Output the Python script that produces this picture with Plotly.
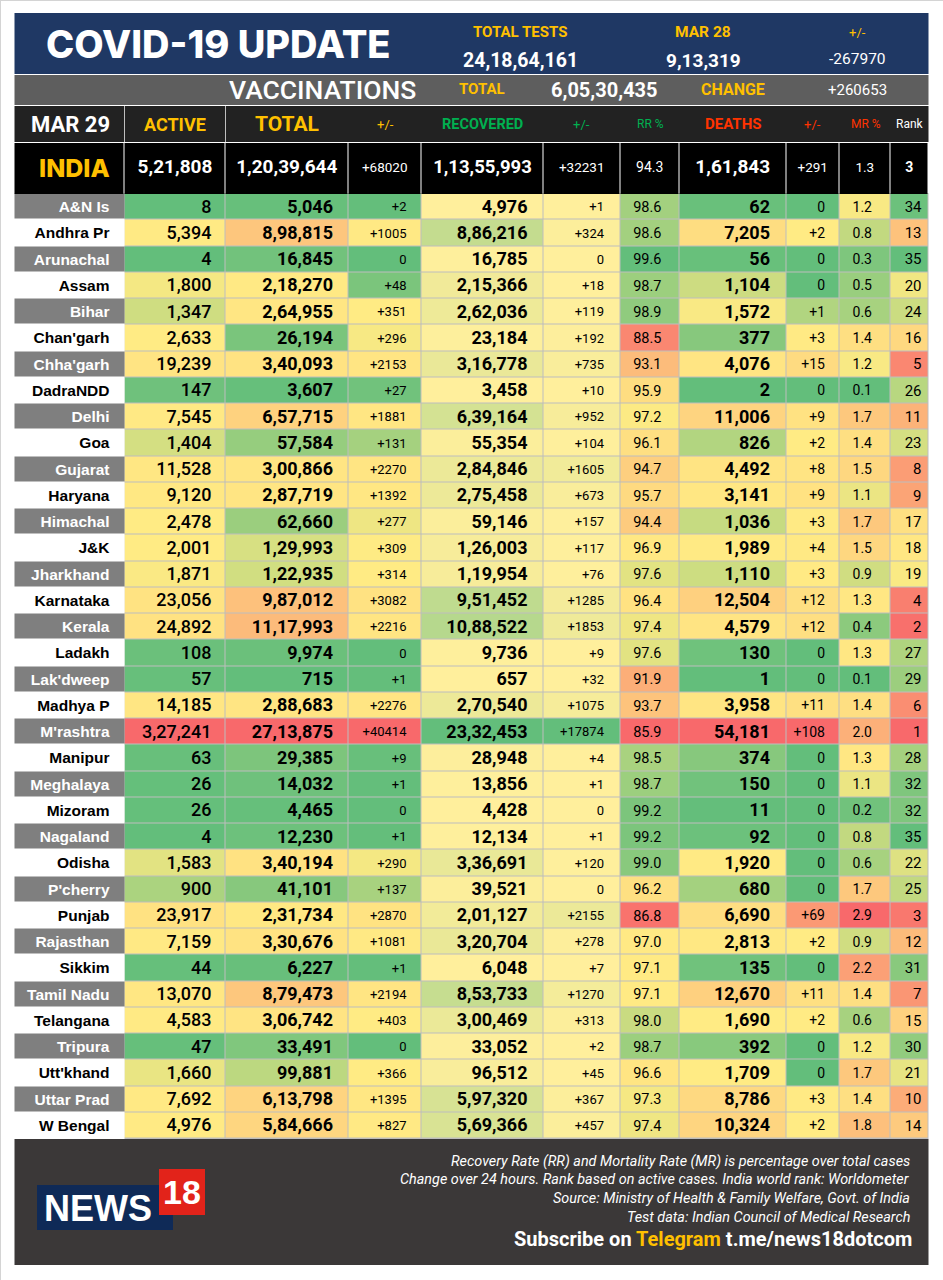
"""
ตารางสรุปสถานการณ์ COVID-19 ของอินเดียรายรัฐ (MAR 29)
สีของแต่ละคอลัมน์คำนวณจากค่าในคอลัมน์ แบบ conditional formatting ของ Excel
"""

import numpy as np
import pandas as pd
import plotly.graph_objects as go

WIDTH = 943
HEIGHT = 1280
YELLOW = '#FFC000'
GREEN = '#00B050'
RED = '#FF3300'
NUM_FONT = 'Roboto'
NAME_FONT = 'Liberation Sans'

# ข้อมูลรายรัฐ
columns = ['state', 'active', 'total', 'total_chg', 'recovered', 'rec_chg', 'rr',
           'deaths', 'death_chg', 'mr', 'rank']
rows = [
    ['A&N Is', 8, 5046, 2, 4976, 1, 98.6, 62, 0, 1.2, 34],
    ['Andhra Pr', 5394, 898815, 1005, 886216, 324, 98.6, 7205, 2, 0.8, 13],
    ['Arunachal', 4, 16845, 0, 16785, 0, 99.6, 56, 0, 0.3, 35],
    ['Assam', 1800, 218270, 48, 215366, 18, 98.7, 1104, 0, 0.5, 20],
    ['Bihar', 1347, 264955, 351, 262036, 119, 98.9, 1572, 1, 0.6, 24],
    ["Chan'garh", 2633, 26194, 296, 23184, 192, 88.5, 377, 3, 1.4, 16],
    ["Chha'garh", 19239, 340093, 2153, 316778, 735, 93.1, 4076, 15, 1.2, 5],
    ['DadraNDD', 147, 3607, 27, 3458, 10, 95.9, 2, 0, 0.1, 26],
    ['Delhi', 7545, 657715, 1881, 639164, 952, 97.2, 11006, 9, 1.7, 11],
    ['Goa', 1404, 57584, 131, 55354, 104, 96.1, 826, 2, 1.4, 23],
    ['Gujarat', 11528, 300866, 2270, 284846, 1605, 94.7, 4492, 8, 1.5, 8],
    ['Haryana', 9120, 287719, 1392, 275458, 673, 95.7, 3141, 9, 1.1, 9],
    ['Himachal', 2478, 62660, 277, 59146, 157, 94.4, 1036, 3, 1.7, 17],
    ['J&K', 2001, 129993, 309, 126003, 117, 96.9, 1989, 4, 1.5, 18],
    ['Jharkhand', 1871, 122935, 314, 119954, 76, 97.6, 1110, 3, 0.9, 19],
    ['Karnataka', 23056, 987012, 3082, 951452, 1285, 96.4, 12504, 12, 1.3, 4],
    ['Kerala', 24892, 1117993, 2216, 1088522, 1853, 97.4, 4579, 12, 0.4, 2],
    ['Ladakh', 108, 9974, 0, 9736, 9, 97.6, 130, 0, 1.3, 27],
    ["Lak'dweep", 57, 715, 1, 657, 32, 91.9, 1, 0, 0.1, 29],
    ['Madhya P', 14185, 288683, 2276, 270540, 1075, 93.7, 3958, 11, 1.4, 6],
    ["M'rashtra", 327241, 2713875, 40414, 2332453, 17874, 85.9, 54181, 108, 2.0, 1],
    ['Manipur', 63, 29385, 9, 28948, 4, 98.5, 374, 0, 1.3, 28],
    ['Meghalaya', 26, 14032, 1, 13856, 1, 98.7, 150, 0, 1.1, 32],
    ['Mizoram', 26, 4465, 0, 4428, 0, 99.2, 11, 0, 0.2, 32],
    ['Nagaland', 4, 12230, 1, 12134, 1, 99.2, 92, 0, 0.8, 35],
    ['Odisha', 1583, 340194, 290, 336691, 120, 99.0, 1920, 0, 0.6, 22],
    ["P'cherry", 900, 41101, 137, 39521, 0, 96.2, 680, 0, 1.7, 25],
    ['Punjab', 23917, 231734, 2870, 201127, 2155, 86.8, 6690, 69, 2.9, 3],
    ['Rajasthan', 7159, 330676, 1081, 320704, 278, 97.0, 2813, 2, 0.9, 12],
    ['Sikkim', 44, 6227, 1, 6048, 7, 97.1, 135, 0, 2.2, 31],
    ['Tamil Nadu', 13070, 879473, 2194, 853733, 1270, 97.1, 12670, 11, 1.4, 7],
    ['Telangana', 4583, 306742, 403, 300469, 313, 98.0, 1690, 2, 0.6, 15],
    ['Tripura', 47, 33491, 0, 33052, 2, 98.7, 392, 0, 1.2, 30],
    ["Utt'khand", 1660, 99881, 366, 96512, 45, 96.6, 1709, 0, 1.7, 21],
    ['Uttar Prad', 7692, 613798, 1395, 597320, 367, 97.3, 8786, 3, 1.4, 10],
    ['W Bengal', 4976, 584666, 827, 569366, 457, 97.4, 10324, 2, 1.8, 14],
]
df = pd.DataFrame(rows, columns=columns)

india = {
    'active': 521808, 'total': 12039644, 'total_chg': 68020, 'recovered': 11355993,
    'rec_chg': 32231, 'rr': 94.3, 'deaths': 161843, 'death_chg': 291, 'mr': 1.3, 'rank': 3
}

# ขอบคอลัมน์และแถว (พิกเซล)
col_edges = [14.5, 124.5, 225.5, 348, 421.5, 543.5, 620, 679.5, 786, 839.5, 890, 928.5]
row_top = 193.5
row_height = 26.25
row_edges = [row_top + i * row_height for i in range(len(df) + 1)]
# ตัวอักษรของ browser ลอยสูงกว่ากึ่งกลางเล็กน้อย จึงเลื่อนลง
row_mid = [row_top + (i + 0.5) * row_height + 1.5 for i in range(len(df))]
india_edges = [143, 193.5]

# การตั้งค่าคอลัมน์: ระยะขอบขวา, ขนาด, น้ำหนักตัวอักษร
col_style = {
    'active': dict(pad=14, size=18, weight=500),
    'total': dict(pad=15, size=18, weight=700),
    'total_chg': dict(pad=15, size=13, weight=400),
    'recovered': dict(pad=16, size=18, weight=700),
    'rec_chg': dict(pad=16, size=13, weight=400),
    'rr': dict(pad=18, size=14.5, weight=400),
    'deaths': dict(pad=16, size=18, weight=700),
    'death_chg': dict(pad=14.5, size=14, weight=400),
    'mr': dict(pad=18, size=14, weight=400),
    'rank': dict(pad=7, size=15, weight=400),
}
value_cols = list(col_style)
three_color = [[0, '#63BE7B'], [0.5, '#FFEB84'], [1, '#F8696B']]
two_color = [[0, '#FFEF9C'], [1, '#63BE7B']]
reversed_cols = ['rr', 'rank']
two_color_cols = ['recovered', 'rec_chg']


def inr(n):
    """จัดรูปแบบตัวเลขแบบอินเดีย เช่น 1,20,39,644"""
    s = str(n)
    if len(s) <= 3:
        return s
    head, tail = s[:-3], s[-3:]
    parts = []
    while len(head) > 2:
        parts.insert(0, head[-2:])
        head = head[:-2]
    if head:
        parts.insert(0, head)
    return ','.join(parts) + ',' + tail


def cell_text(col, value):
    if col.endswith('_chg'):
        return f'+{value}' if value > 0 else '0'
    if col in ('rr', 'mr'):
        return f'{value:.1f}'
    if col == 'rank':
        return str(value)
    return inr(value)


def scale_three(values, flip=False):
    """สเกล 3 สี: ต่ำสุด - มัธยฐาน - สูงสุด"""
    v = np.asarray(values, dtype=float)
    lo, mid, hi = v.min(), np.median(v), v.max()
    z = np.where(v <= mid, 0.5 * (v - lo) / (mid - lo), 0.5 + 0.5 * (v - mid) / (hi - mid))
    return 1 - z if flip else z


def scale_two(values):
    v = np.asarray(values, dtype=float)
    return (v - v.min()) / (v.max() - v.min())


z3 = np.full((len(df), len(value_cols)), np.nan)
z2 = np.full((len(df), len(value_cols)), np.nan)
for j, col in enumerate(value_cols):
    if col in two_color_cols:
        z2[:, j] = scale_two(df[col])
    else:
        z3[:, j] = scale_three(df[col], flip=col in reversed_cols)

fig = go.Figure()

# ตารางสีหลัก
fig.add_trace(go.Heatmap(x=col_edges[1:], y=row_edges, z=z3, colorscale=three_color, zmin=0, zmax=1,
                         xgap=1, ygap=1, showscale=False, hoverinfo='skip'))
fig.add_trace(go.Heatmap(x=col_edges[1:], y=row_edges, z=z2, colorscale=two_color, zmin=0, zmax=1,
                         xgap=1, ygap=1, showscale=False, hoverinfo='skip'))

# คอลัมน์ชื่อรัฐ สลับเทา/ขาว
stripe = [[i % 2] for i in range(len(df))]
fig.add_trace(go.Heatmap(x=col_edges[:2], y=row_edges, z=stripe, zmin=0, zmax=1,
                         colorscale=[[0, '#7F7F7F'], [1, '#FFFFFF']], ygap=1,
                         showscale=False, hoverinfo='skip'))
name_color = ['#FFFFFF' if i % 2 == 0 else '#000000' for i in range(len(df))]
fig.add_trace(go.Scatter(
    x=[col_edges[1] - 15] * len(df), y=row_mid, mode='text', text=df['state'],
    textposition='middle left', hoverinfo='skip',
    textfont=dict(family=NAME_FONT, size=15.5, weight=700, color=name_color)
))

# ตัวเลขในตาราง
for j, col in enumerate(value_cols):
    style = col_style[col]
    fig.add_trace(go.Scatter(
        x=[col_edges[j + 2] - style['pad']] * len(df), y=row_mid, mode='text',
        text=[cell_text(col, v) for v in df[col]],
        textposition='middle left', hoverinfo='skip',
        textfont=dict(family=NUM_FONT, size=style['size'], weight=style['weight'], color='#000000')
    ))

# แถว INDIA
fig.add_trace(go.Heatmap(x=col_edges, y=india_edges, z=[[0] * (len(col_edges) - 1)],
                         colorscale=[[0, '#000000'], [1, '#000000']], xgap=1,
                         showscale=False, hoverinfo='skip'))
india_x = [(col_edges[j + 1] + col_edges[j + 2]) / 2 for j in range(len(value_cols))]
india_size = [19, 19, 13.5, 18.5, 13.5, 14, 19, 13.5, 13.5, 14]
india_weight = [700, 700, 400, 700, 400, 400, 700, 400, 400, 700]
for x, col, size, weight in zip(india_x, value_cols, india_size, india_weight):
    fig.add_trace(go.Scatter(
        x=[x], y=[168.5], mode='text', text=[cell_text(col, india[col])],
        textposition='middle center', hoverinfo='skip',
        textfont=dict(family=NUM_FONT, size=size, weight=weight, color='#FFFFFF')
    ))

# แถบพื้นหลัง: (x0, y0, x1, y1, สี)
bands = [
    (14.5, 13, 928.5, 74, '#1F3864'),
    (14.5, 75, 928.5, 105, '#5E5E5E'),
    (14.5, 106, 928.5, 142, '#222222'),
    (14.5, 142, 928.5, 193, '#FFFFFF'),
    (124.5, 193, 928.5, 1139, '#BDBDBD'),
    (14.5, 1139, 928.5, 1265, '#3B3838'),
    (37, 1185, 173, 1230, '#0F2A57'),
    (159, 1169, 205, 1215, '#E2231A'),
]
shapes = [dict(type='rect', x0=b[0], y0=b[1], x1=b[2], y1=b[3], fillcolor=b[4],
               line_width=0, layer='below') for b in bands]
# เส้นแบ่งแถวหัวตารางและกรอบภาพ
for x in col_edges[1:3]:
    shapes.append(dict(type='line', x0=x, x1=x, y0=106, y1=142, line=dict(color='#BFBFBF', width=1)))
shapes.append(dict(type='line', x0=0.5, x1=0.5, y0=0, y1=1280, line=dict(color='#D4D4D4', width=1)))
shapes.append(dict(type='line', x0=0, x1=943, y0=0.5, y1=0.5, line=dict(color='#D4D4D4', width=1)))


def label(x, y, text, size, color='#FFFFFF', weight=400, anchor='center', family=NUM_FONT, style='normal'):
    return dict(x=x, y=y, text=text, showarrow=False, xanchor=anchor, yanchor='middle',
                font=dict(family=family, size=size, color=color, weight=weight, style=style))


annotations = [
    # แบนเนอร์ด้านบน
    label(218, 44, 'COVID-19 UPDATE', 38, weight=800, family='Inter'),
    label(520, 32, 'TOTAL TESTS', 15, YELLOW, 700),
    label(703, 32, 'MAR 28', 15.5, YELLOW, 700),
    label(857, 32, '+/-', 13, YELLOW),
    label(520, 60, inr(241864161), 19.5, weight=700),
    label(703, 60, inr(913319), 19, weight=700),
    label(857, 59, '-267970', 15.5),
    label(322, 89, 'VACCINATIONS', 26.5, weight=500),
    label(482, 89, 'TOTAL', 15, YELLOW, 700),
    label(604, 90, inr(60530435), 20, weight=700),
    label(733, 89, 'CHANGE', 16, YELLOW, 700),
    label(857, 90, '+260653', 15),
    # หัวตาราง
    label(70, 124, 'MAR 29', 22, weight=700),
    label(175, 124, 'ACTIVE', 18, YELLOW, 700),
    label(287, 124, 'TOTAL', 21, YELLOW, 700),
    label(385, 124, '+/-', 13, YELLOW),
    label(482, 124, 'RECOVERED', 14.5, GREEN, 700),
    label(581, 124, '+/-', 13, GREEN),
    label(650, 124, 'RR %', 12, GREEN),
    label(733, 124, 'DEATHS', 15, RED, 700),
    label(812, 124, '+/-', 13, RED),
    label(866, 124, 'MR %', 12, RED),
    label(910, 124, 'Rank', 12),
    label(74.5, 168, 'INDIA', 25, YELLOW, 800, family='Inter'),
    # โลโก้
    label(98, 1208, 'NEWS', 36, weight=700, family=NAME_FONT),
    label(182, 1192, '18', 34, weight=700, family=NAME_FONT),
    # หมายเหตุท้ายภาพ
    label(912, 1161, 'Recovery Rate (RR) and Mortality Rate (MR) is percentage over total cases', 14.4, anchor='right', style='italic'),
    label(912, 1179, 'Change over 24 hours. Rank based on active cases. India world rank: Worldometer', 14.4, anchor='right', style='italic'),
    label(912, 1198, 'Source: Ministry of Health & Family Welfare, Govt. of India', 14.4, anchor='right', style='italic'),
    label(912, 1217, 'Test data: Indian Council of Medical Research', 14.4, anchor='right', style='italic'),
    label(914, 1239, f'Subscribe on <span style="color:{YELLOW}">Telegram</span> t.me/news18dotcom', 20, weight=700, anchor='right'),
]

fig.update_layout(
    width=WIDTH,
    height=HEIGHT,
    margin=dict(l=0, r=0, t=0, b=0),
    paper_bgcolor='#FFFFFF',
    plot_bgcolor='#FFFFFF',
    showlegend=False,
    shapes=shapes,
    annotations=annotations,
    xaxis=dict(range=[0, WIDTH], visible=False, fixedrange=True),
    yaxis=dict(range=[HEIGHT, 0], visible=False, fixedrange=True),
)

fig.write_html("out.html", post_script="document.body.style.margin='0';", config={'displayModeBar': False})
